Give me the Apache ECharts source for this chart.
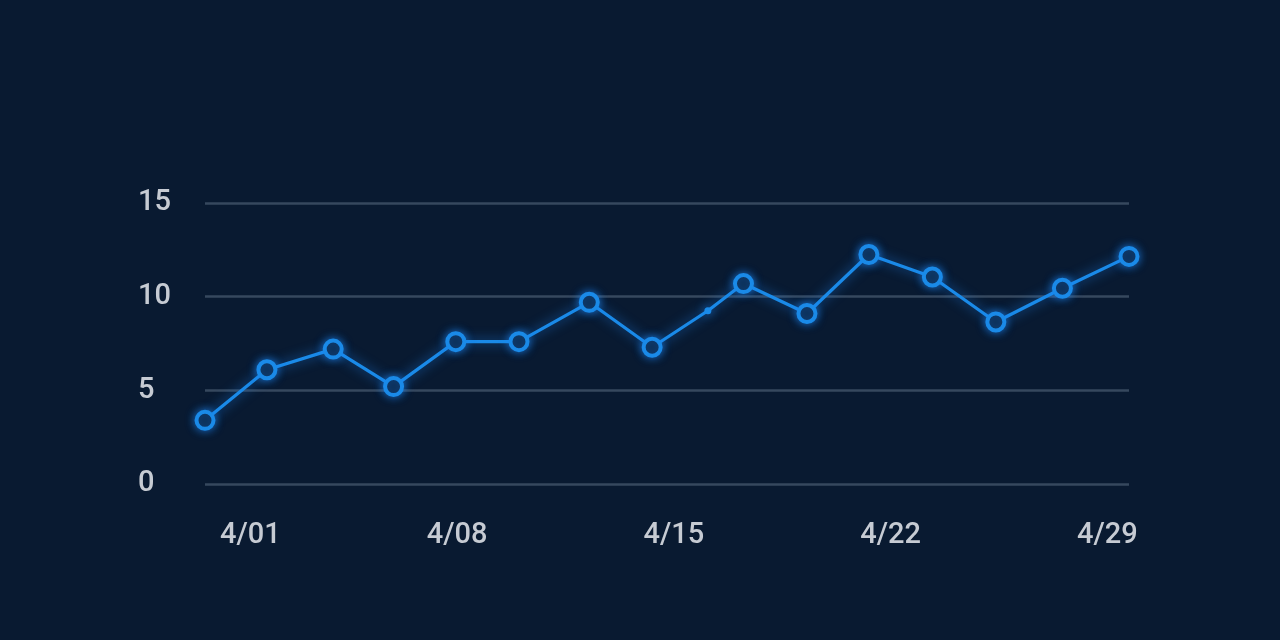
<!DOCTYPE html>
<html>
<head>
<meta charset="utf-8">
<script src="https://cdn.jsdelivr.net/npm/echarts@6/dist/echarts.min.js"></script>
<style>
    html, body { margin: 0; padding: 0; background: #091a31; }
    #chart { width: 1280px; height: 640px; }
</style>
</head>
<body>
<div id="chart"></div>
<script>
// day of April for each point (0 = 3/31)
const days = [-0.14, 1.86, 4.0, 5.95, 7.96, 10.0, 12.27, 14.3, 16.1, 17.25, 19.3, 21.3, 23.35, 25.4, 27.55, 29.7];
const values = [3.4, 6.1, 7.2, 5.2, 7.6, 7.6, 9.7, 7.3, 9.25, 10.7, 9.1, 12.25, 11.05, 8.65, 10.45, 12.15];
const labelDays = [1, 8, 15, 22, 29];
const yTicks = [0, 5, 10, 15];

(function() {
    const LINE = "#1a8ae8";
    const BG = "#091a31";
    let myChart = echarts.init(document.getElementById("chart"));

    let seriesData = days.map(function(d, i) {
        // the one tiny marker on the rising segment after 4/15
        if (i === 8) {
            return { value: [d, values[i]], symbolSize: 7, itemStyle: { color: LINE, borderWidth: 0 } };
        }
        return [d, values[i]];
    });

    let option = {
        backgroundColor: BG,
        animation: false,
        grid: {
            left: 205,
            right: 151,
            top: 203,
            bottom: 156
        },
        xAxis: {
            type: "value",
            min: -0.14,
            max: 29.7,
            axisLine: { show: false },
            axisTick: { show: false },
            splitLine: { show: false },
            axisLabel: {
                customValues: labelDays,
                color: "#c6cbd3",
                fontSize: 29,
                fontWeight: 500,
                fontFamily: "Roboto",
                margin: 37,
                formatter: function(v) {
                    // first label sits a little right of its day in the picture
                    if (v === 1) return "{first|4/01}";
                    return "4/" + (v < 10 ? "0" + v : v);
                },
                rich: {
                    first: {
                        color: "#c6cbd3",
                        fontSize: 29,
                        fontWeight: 500,
                        fontFamily: "Roboto",
                        padding: [0, 0, 0, 20]
                    }
                }
            }
        },
        yAxis: {
            type: "value",
            min: 0,
            max: 15,
            interval: 5,
            axisLine: { show: false },
            axisTick: { show: false },
            axisLabel: {
                customValues: yTicks,
                color: "#c6cbd3",
                fontSize: 29,
                fontWeight: 500,
                fontFamily: "Roboto",
                align: "left",
                margin: 67
            },
            splitLine: {
                lineStyle: {
                    color: "rgba(150,170,190,0.32)",
                    width: 2.5
                }
            }
        },
        series: [{
            type: "line",
            data: seriesData,
            symbol: "circle",
            symbolSize: 17,
            showAllSymbol: true,
            lineStyle: {
                color: LINE,
                width: 3.2,
                shadowColor: "rgba(30,140,255,0.7)",
                shadowBlur: 12
            },
            itemStyle: {
                color: BG,
                borderColor: LINE,
                borderWidth: 4,
                shadowColor: "rgba(30,140,255,0.7)",
                shadowBlur: 10
            }
        }]
    };
    myChart.setOption(option);
    window.addEventListener("resize", function() {
        myChart.resize();
    });
})();
</script>
</body>
</html>
